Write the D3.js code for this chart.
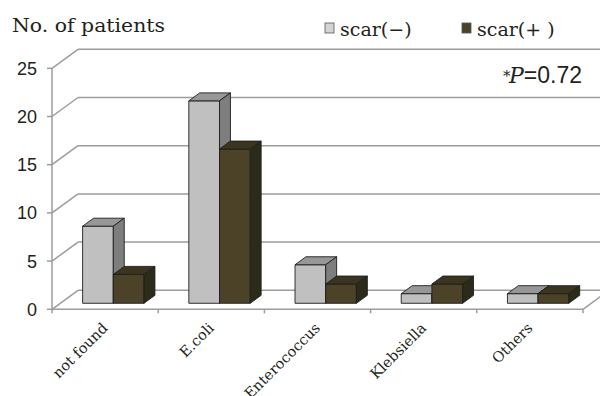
<!DOCTYPE html>
<html>
<head>
<meta charset="utf-8">
<script src="https://cdn.jsdelivr.net/npm/d3@7"></script>
<style>
  html, body { margin: 0; padding: 0; background: #fff; }
  svg { display: block; }
</style>
</head>
<body>
<svg id="chart" width="600" height="396"></svg>
<script>
// ---- data ----
const categories = ["not found", "E.coli", "Enterococcus", "Klebsiella", "Others"];
const seriesNames = ["scar(−)", "scar(+ )"];
const scarNeg = [8, 21, 4, 1, 1];
const scarPos = [3, 16, 2, 2, 1];
const yTicks = [0, 5, 10, 15, 20, 25];
const titleText = "No. of patients";
const pText = "=0.72";

// ---- styles ----
const textColor = "#231f20";
const gridColor = "#9c9c9c";
const colors = [
  { front: "#c0c0c0", top: "#979797", side: "#7e7e7e", legend: "#d4d4d4" },
  { front: "#4b4228", top: "#3b3520", side: "#2c2a18", legend: "#4b4228" }
];
const series = [scarNeg, scarPos];

const svg = d3.select("#chart");

// ---- scales ----
const x = d3.scaleBand().domain(categories).range([52, 583]).padding(0);
const xs = d3.scaleBand().domain(seriesNames).range([0, x.bandwidth()]).paddingInner(0).paddingOuter(0.73);
const y = d3.scaleLinear().domain([0, 25]).range([309.3, 68.3]);

const D = { dx: 26, dy: -19 };          // full depth of the floor
const f0 = 0.316, fd = 0.42;            // bar front offset and bar depth, as fraction of depth
const off = { dx: D.dx * f0, dy: D.dy * f0 };
const bd = { dx: D.dx * fd, dy: D.dy * fd };

const [x0, x1] = x.range();

// ---- walls / gridlines ----
const grid = svg.append("g").attr("stroke", gridColor).attr("stroke-width", 1.5).attr("fill", "none");
// back wall horizontal lines
grid.selectAll("line.back").data(yTicks).join("line")
  .attr("x1", x0 + D.dx).attr("x2", x1 + D.dx)
  .attr("y1", d => y(d) + D.dy).attr("y2", d => y(d) + D.dy);
// left wall diagonals
grid.selectAll("line.diag").data(yTicks).join("line")
  .attr("x1", x0).attr("x2", x0 + D.dx)
  .attr("y1", d => y(d)).attr("y2", d => y(d) + D.dy);
// y axis line
grid.append("line").attr("x1", x0).attr("x2", x0).attr("y1", y(25)).attr("y2", y(0));
// y ticks
grid.selectAll("line.ytick").data(yTicks).join("line")
  .attr("x1", x0 - 5).attr("x2", x0).attr("y1", d => y(d)).attr("y2", d => y(d));
// floor front line
grid.append("line").attr("x1", x0).attr("x2", x1).attr("y1", y(0)).attr("y2", y(0));
// floor right diagonal
grid.append("line").attr("x1", x1).attr("x2", x1 + D.dx).attr("y1", y(0)).attr("y2", y(0) + D.dy);
// category ticks
const bounds = categories.map(c => x(c)).concat([x1]);
grid.selectAll("line.xtick").data(bounds).join("line")
  .attr("x1", d => d).attr("x2", d => d).attr("y1", y(0)).attr("y2", y(0) + 4);

// ---- bars ----
const barsG = svg.append("g").attr("stroke", "#1e1e1e").attr("stroke-width", 0.9).attr("stroke-linejoin", "round");
const poly = pts => pts.map(p => p.join(",")).join(" ");
categories.forEach((cat, ci) => {
  seriesNames.forEach((s, si) => {
    const v = series[si][ci];
    const xl = x(cat) + xs(s) + off.dx;
    const xr = xl + xs.bandwidth();
    const yt = y(v) + off.dy;
    const yb = y(0) + off.dy;
    const g = barsG.append("g");
    g.append("polygon").attr("fill", colors[si].front)
      .attr("points", poly([[xl, yt], [xr, yt], [xr, yb], [xl, yb]]));
    g.append("polygon").attr("fill", colors[si].top)
      .attr("points", poly([[xl, yt], [xr, yt], [xr + bd.dx, yt + bd.dy], [xl + bd.dx, yt + bd.dy]]));
    g.append("polygon").attr("fill", colors[si].side)
      .attr("points", poly([[xr, yt], [xr + bd.dx, yt + bd.dy], [xr + bd.dx, yb + bd.dy], [xr, yb]]));
  });
});

// ---- y tick labels ----
svg.append("g").selectAll("text").data(yTicks).join("text")
  .attr("x", 37).attr("y", d => y(d)).attr("dy", "0.36em")
  .attr("text-anchor", "end")
  .attr("font-family", "Liberation Sans, Arial, sans-serif")
  .attr("font-size", 18).attr("fill", textColor)
  .text(d => d);

// ---- category labels ----
svg.append("g").selectAll("text").data(categories).join("text")
  .attr("transform", d => `translate(${x(d) + x.bandwidth() / 2 + 3.5},329) rotate(-45)`)
  .attr("text-anchor", "end")
  .attr("font-family", "DejaVu Serif, serif")
  .attr("font-size", 14.5).attr("fill", textColor)
  .text(d => d);

// ---- title ----
svg.append("text").attr("x", 12).attr("y", 32)
  .attr("font-family", "DejaVu Serif, serif").attr("font-size", 19)
  .attr("textLength", 153).attr("lengthAdjust", "spacingAndGlyphs")
  .attr("fill", textColor).text(titleText);

// ---- legend ----
const legendX = [325, 462];
const leg = svg.append("g");
seriesNames.forEach((s, i) => {
  leg.append("rect").attr("x", legendX[i]).attr("y", 23).attr("width", 9).attr("height", 10)
    .attr("fill", colors[i].legend).attr("stroke", "#555").attr("stroke-width", 0.8);
  leg.append("text").attr("x", legendX[i] + 15).attr("y", 36)
    .attr("font-family", "DejaVu Serif, serif").attr("font-size", 19)
    .attr("fill", textColor).text(s);
});

// ---- P value annotation ----
const pv = svg.append("g").attr("fill", textColor);
pv.append("text").attr("x", 503).attr("y", 81)
  .attr("font-family", "DejaVu Serif, serif").attr("font-size", 15).text("*");
pv.append("text").attr("x", 509).attr("y", 83)
  .attr("font-family", "DejaVu Serif, serif").attr("font-style", "italic").attr("font-size", 22).text("P");
pv.append("text").attr("x", 582).attr("y", 83).attr("text-anchor", "end")
  .attr("font-family", "Liberation Sans, Arial, sans-serif").attr("font-size", 23).text(pText);
</script>
</body>
</html>
